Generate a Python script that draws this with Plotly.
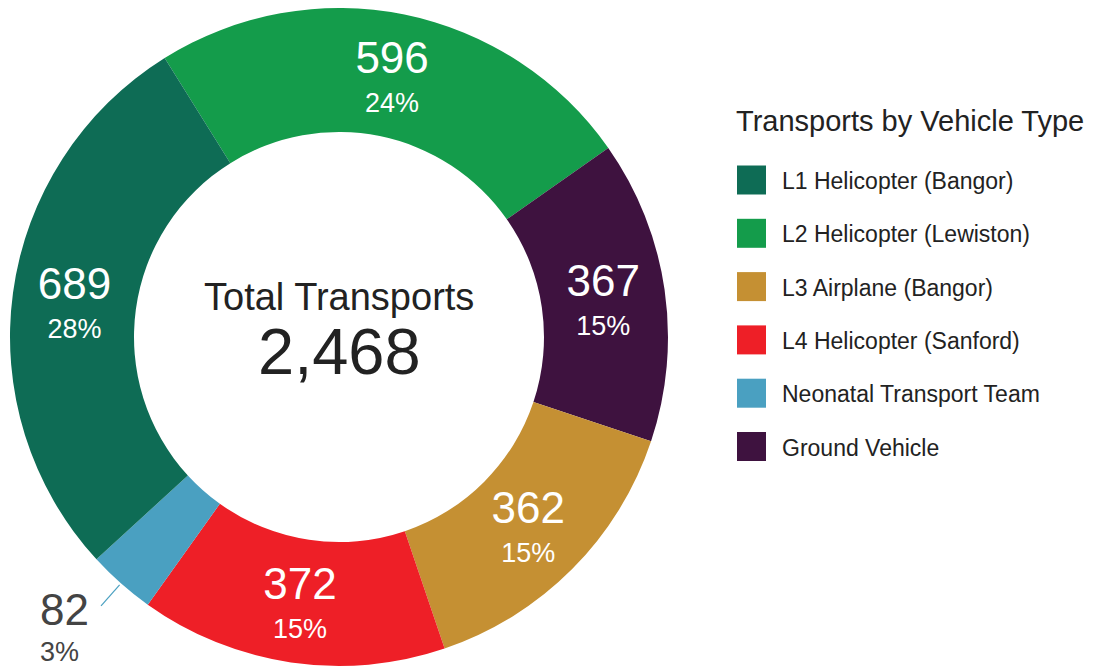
import math
import plotly.graph_objects as go

# ---------------- data ----------------
categories = [
    "L1 Helicopter (Bangor)",
    "L2 Helicopter (Lewiston)",
    "L3 Airplane (Bangor)",
    "L4 Helicopter (Sanford)",
    "Neonatal Transport Team",
    "Ground Vehicle",
]
transports = [689, 596, 362, 372, 82, 367]
colors = ["#0e6c55", "#149c4b", "#c59033", "#ee1f27", "#4aa0c1", "#3e123f"]
slice_order = [1, 5, 2, 3, 4, 0]  # clockwise from the top of the ring
outside_label = "Neonatal Transport Team"
legend_title = "Transports by Vehicle Type"
center_title = "Total Transports"

total = sum(transports)

# ---------------- layout geometry (page pixels) ----------------
OFF = 8                      # page body margin around the figure
W, H = 1109 - OFF, 667 - OFF
CX, CY, R = 339, 337, 329
HOLE = 205 / R
ROT = -32
FONT = "Liberation Sans, Arial, sans-serif"


def px(x):
    return (x - OFF) / W


def py(y):
    return 1 - (y - OFF) / H


pie_labels = [categories[i] for i in slice_order]
pie_vals = [transports[i] for i in slice_order]
pie_cols = [colors[i] for i in slice_order]

tmpl_in = ("<span style='font-size:44px'>%{value}</span><br>"
           "<span style='font-size:27px'>%{percent:.0%}</span>")
texttemplate = [tmpl_in if l != outside_label else "" for l in pie_labels]
textposition = ["inside" if l != outside_label else "none" for l in pie_labels]

fig = go.Figure()
fig.add_trace(go.Pie(
    labels=pie_labels,
    values=pie_vals,
    sort=False,
    direction="clockwise",
    rotation=ROT,
    hole=HOLE,
    marker=dict(colors=pie_cols, line=dict(width=0)),
    texttemplate=texttemplate,
    textposition=textposition,
    insidetextorientation="horizontal",
    textfont=dict(family=FONT, size=30, color="white"),
    showlegend=False,
    domain=dict(x=[px(CX - R), px(CX + R)], y=[py(CY + R), py(CY - R)]),
    hoverinfo="label+value+percent",
))

annotations = []
shapes = []

# center text
annotations.append(dict(x=px(CX), y=py(297), xref="paper", yref="paper",
                        text=center_title, showarrow=False,
                        font=dict(family=FONT, size=38, color="#222222"),
                        xanchor="center", yanchor="middle"))
annotations.append(dict(x=px(CX), y=py(351), xref="paper", yref="paper",
                        text=f"{total:,}", showarrow=False,
                        font=dict(family=FONT, size=65, color="#222222"),
                        xanchor="center", yanchor="middle"))

# outside label with leader line for the small slice, placed at its mid angle
cum = 0
for lab, v in zip(pie_labels, pie_vals):
    if lab == outside_label:
        mid = math.radians(ROT + (cum + v / 2) / total * 360)
        sx, sy = math.sin(mid), -math.cos(mid)
        x0, y0 = CX + (R + 2) * sx, CY + (R + 2) * sy
        x1, y1 = CX + (R + 30) * sx, CY + (R + 30) * sy
        shapes.append(dict(type="line", xref="paper", yref="paper",
                           x0=px(x0), y0=py(y0), x1=px(x1), y1=py(y1),
                           line=dict(color=colors[categories.index(lab)], width=1.2)))
        idx = categories.index(lab)
        annotations.append(dict(x=px(38), y=py(609), xref="paper", yref="paper",
                                text=f"{transports[idx]}", showarrow=False,
                                font=dict(family=FONT, size=44, color="#444444"),
                                xanchor="left", yanchor="middle"))
        annotations.append(dict(x=px(38), y=py(652), xref="paper", yref="paper",
                                text=f"{round(transports[idx] / total * 100)}%",
                                showarrow=False,
                                font=dict(family=FONT, size=27, color="#444444"),
                                xanchor="left", yanchor="middle"))
    cum += v

# legend (title, swatches, labels)
annotations.append(dict(x=px(734), y=py(121), xref="paper", yref="paper",
                        text=legend_title, showarrow=False,
                        font=dict(family=FONT, size=29, color="#222222"),
                        xanchor="left", yanchor="middle"))
for i, (cat, col) in enumerate(zip(categories, colors)):
    yc = 180 + 53.3 * i
    shapes.append(dict(type="rect", xref="paper", yref="paper",
                       x0=px(737), x1=px(766), y0=py(yc + 14.5), y1=py(yc - 14.5),
                       fillcolor=col, line=dict(width=0)))
    annotations.append(dict(x=px(780), y=py(yc + 1), xref="paper", yref="paper",
                            text=cat, showarrow=False,
                            font=dict(family=FONT, size=23, color="#222222"),
                            xanchor="left", yanchor="middle"))

fig.update_layout(
    width=W, height=H,
    margin=dict(l=0, r=0, t=0, b=0),
    paper_bgcolor="white",
    plot_bgcolor="white",
    annotations=annotations,
    shapes=shapes,
    showlegend=False,
)

fig.write_html("out.html")
